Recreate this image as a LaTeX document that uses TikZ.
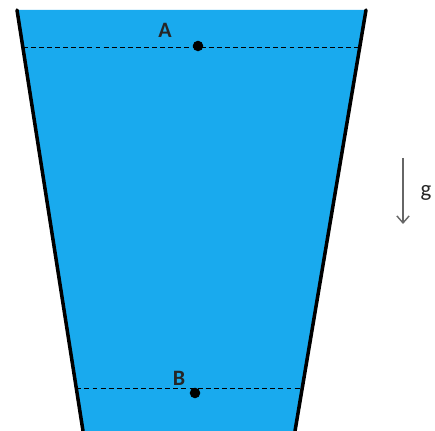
\documentclass[tikz,border=0pt]{standalone}
\usepackage{fontspec}
\setmainfont{Carlito}
\usetikzlibrary{arrows.meta,positioning,calc}
\definecolor{water}{RGB}{25,170,238}

\begin{document}
\begin{tikzpicture}[x=0.02cm, y=-0.02cm,
    wall/.style={line width=2pt, line cap=round},
    level/.style={dashed, line width=0.55pt, dash pattern=on 2.8pt off 1.8pt},
    point/.style={circle, fill=black, inner sep=0pt, minimum size=6pt},
    label/.style={font=\fontsize{12.5}{14}\selectfont\bfseries, text=black!85},
    arrow/.style={-{Straight Barb[length=4pt,width=7pt]}, draw=black!60, line width=0.8pt}]

    \useasboundingbox (0,0) rectangle (435,431);

    % Vessel corners
    \coordinate (tl) at (17,10);
    \coordinate (tr) at (366,10);
    \coordinate (bl) at (83,431);
    \coordinate (br) at (295,431);

    % Water
    \fill[water] (tl) -- (tr) -- (br) -- (bl) -- cycle;

    % Walls
    \draw[wall] (tl) -- (bl);
    \draw[wall] (tr) -- (br);

    % Levels
    \coordinate (a1) at ($(tl)!0.088!(bl)$);
    \coordinate (a2) at ($(tr)!0.088!(br)$);
    \coordinate (b1) at ($(tl)!0.9!(bl)$);
    \coordinate (b2) at ($(tr)!0.9!(br)$);
    \draw[level] (a1) -- (a2);
    \draw[level] (b1) -- (b2);

    % Points
    \node[point] (A) at (198,46) {};
    \node[point] (B) at (195,393) {};
    \node[label] (labA) at (165,30) {A};
    \node[label] (labB) at (179,378) {B};

    % Gravity
    \coordinate (g1) at (403,158);
    \coordinate (g2) at (403,224);
    \draw[arrow] (g1) -- (g2);
    \node[font=\fontsize{13}{14}\selectfont, text=black!85] (g) at (426,193) {g};
\end{tikzpicture}
\end{document}
